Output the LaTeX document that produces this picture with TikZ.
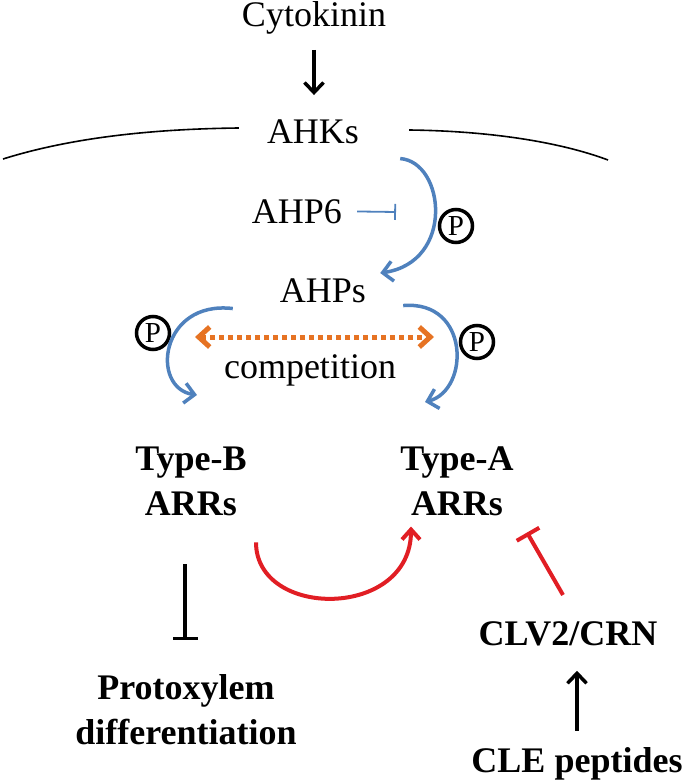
\documentclass[tikz,border=0pt]{standalone}
\usepackage{fontspec}
\setmainfont{Liberation Serif}
\usetikzlibrary{arrows.meta,positioning}
\definecolor{phosblue}{RGB}{79,129,189}
\definecolor{comporange}{RGB}{230,115,35}
\definecolor{arrred}{RGB}{225,30,36}

\begin{document}
\begin{tikzpicture}[x=1pt,y=-1pt]
\fontsize{36}{45}\selectfont

\tikzstyle{plain}    = [inner sep=0pt, align=center]
\tikzstyle{gene}     = [plain, font=\bfseries]
\tikzstyle{phos}     = [draw, circle, line width=3.5pt, inner sep=0pt, minimum size=33pt, font=\fontsize{29}{29}\selectfont]
\tikzstyle{membrane} = [black, line width=1.6pt]
\tikzstyle{blk}      = [black, line width=3.5pt, -{Straight Barb[length=10pt,width=19pt]}]
\tikzstyle{blkbar}   = [black, line width=3.5pt, -{Bar[width=25pt,line width=3.5pt]}]
\tikzstyle{blu}      = [phosblue, line width=3.5pt, -{Straight Barb[length=10pt,width=20pt]}]
\tikzstyle{blubar}   = [phosblue, line width=1.8pt, -{Bar[width=16pt,line width=1.8pt]}]
\tikzstyle{compete}  = [comporange, line width=5pt, dash pattern=on 5pt off 4pt, {Straight Barb[length=11pt,width=20pt]}-{Straight Barb[length=11pt,width=20pt]}]
\tikzstyle{redarr}   = [arrred, line width=4pt, -{Straight Barb[length=10pt,width=18pt]}]
\tikzstyle{redbar}   = [arrred, line width=4pt, -{Bar[width=26pt,line width=4pt]}]

\useasboundingbox (0,0) rectangle (686,784);

\node [plain, anchor=base] (Cyto)  at (314,27)  {Cytokinin};
\node [plain, anchor=base] (AHKs)  at (313,143) {AHKs};
\node [plain, anchor=base] (AHP6)  at (297,223) {AHP6};
\node [plain, anchor=base] (AHPs)  at (323,302) {AHPs};
\node [plain, anchor=base] (Comp)  at (310,378) {competition};
\node [gene, anchor=north] (TypeB) at (191,447) {Type-B\\ARRs};
\node [gene, anchor=north] (TypeA) at (457,447) {Type-A\\ARRs};
\node [gene, anchor=north] (Proto) at (186,674) {Protoxylem\\differentiation};
\node [gene, anchor=base]  (CLV)   at (568,645) {CLV2/CRN};
\node [gene, anchor=base]  (CLE)   at (577,772) {CLE peptides};

\node [phos] (PAHK) at (456,226) {P};
\node [phos] (PB)   at (153,333) {P};
\node [phos] (PA)   at (477,342) {P};

\coordinate (AHP6stop) at (396,212);
\coordinate (CompL)    at (195,337);
\coordinate (CompR)    at (434,337);

\draw [membrane] (3,159) .. controls (70,138) and (150,129) .. ([shift={(-28,-15)}]AHKs.base west);
\draw [membrane] ([shift={(50,-13)}]AHKs.base east) .. controls (490,131) and (560,142) .. (608,160);

\draw [blk, shorten <=15pt, shorten >=24pt] (Cyto.south) -- (Cyto.south |- AHKs.north);
\draw [blu] ([shift={(41,15)}]AHKs.south east) .. controls (445,162) and (455,262) .. ([shift={(14,-5)}]AHPs.north east);
\draw [blubar, shorten <=15pt] (AHP6.east) -- (AHP6stop);

\draw [blu] ([shift={(-47,6)}]AHPs.south west) .. controls (160,300) and (150,388) .. ([shift={(6,-52)}]TypeB.north);
\draw [blu] ([shift={(37,3)}]AHPs.south east) .. controls (470,300) and (470,390) .. ([shift={(-32,-45)}]TypeA.north);
\draw [compete] (CompL) -- (CompR);

\draw [redarr] ([shift={(65,26)}]TypeB.south) .. controls +(0,77) and +(0,93) .. ([shift={(-46,10)}]TypeA.south);
\draw [redbar] ([shift={(-5,-26)}]CLV.north) -- ([shift={(70,16)}]TypeA.south);
\draw [blkbar, shorten <=48pt, shorten >=34pt] ([xshift=-6pt]TypeB.south) -- ([xshift=-1pt]Proto.north);
\draw [blk, shorten <=16pt, shorten >=25pt] (CLE.north) -- (CLE.north |- CLV.south);
\end{tikzpicture}
\end{document}
